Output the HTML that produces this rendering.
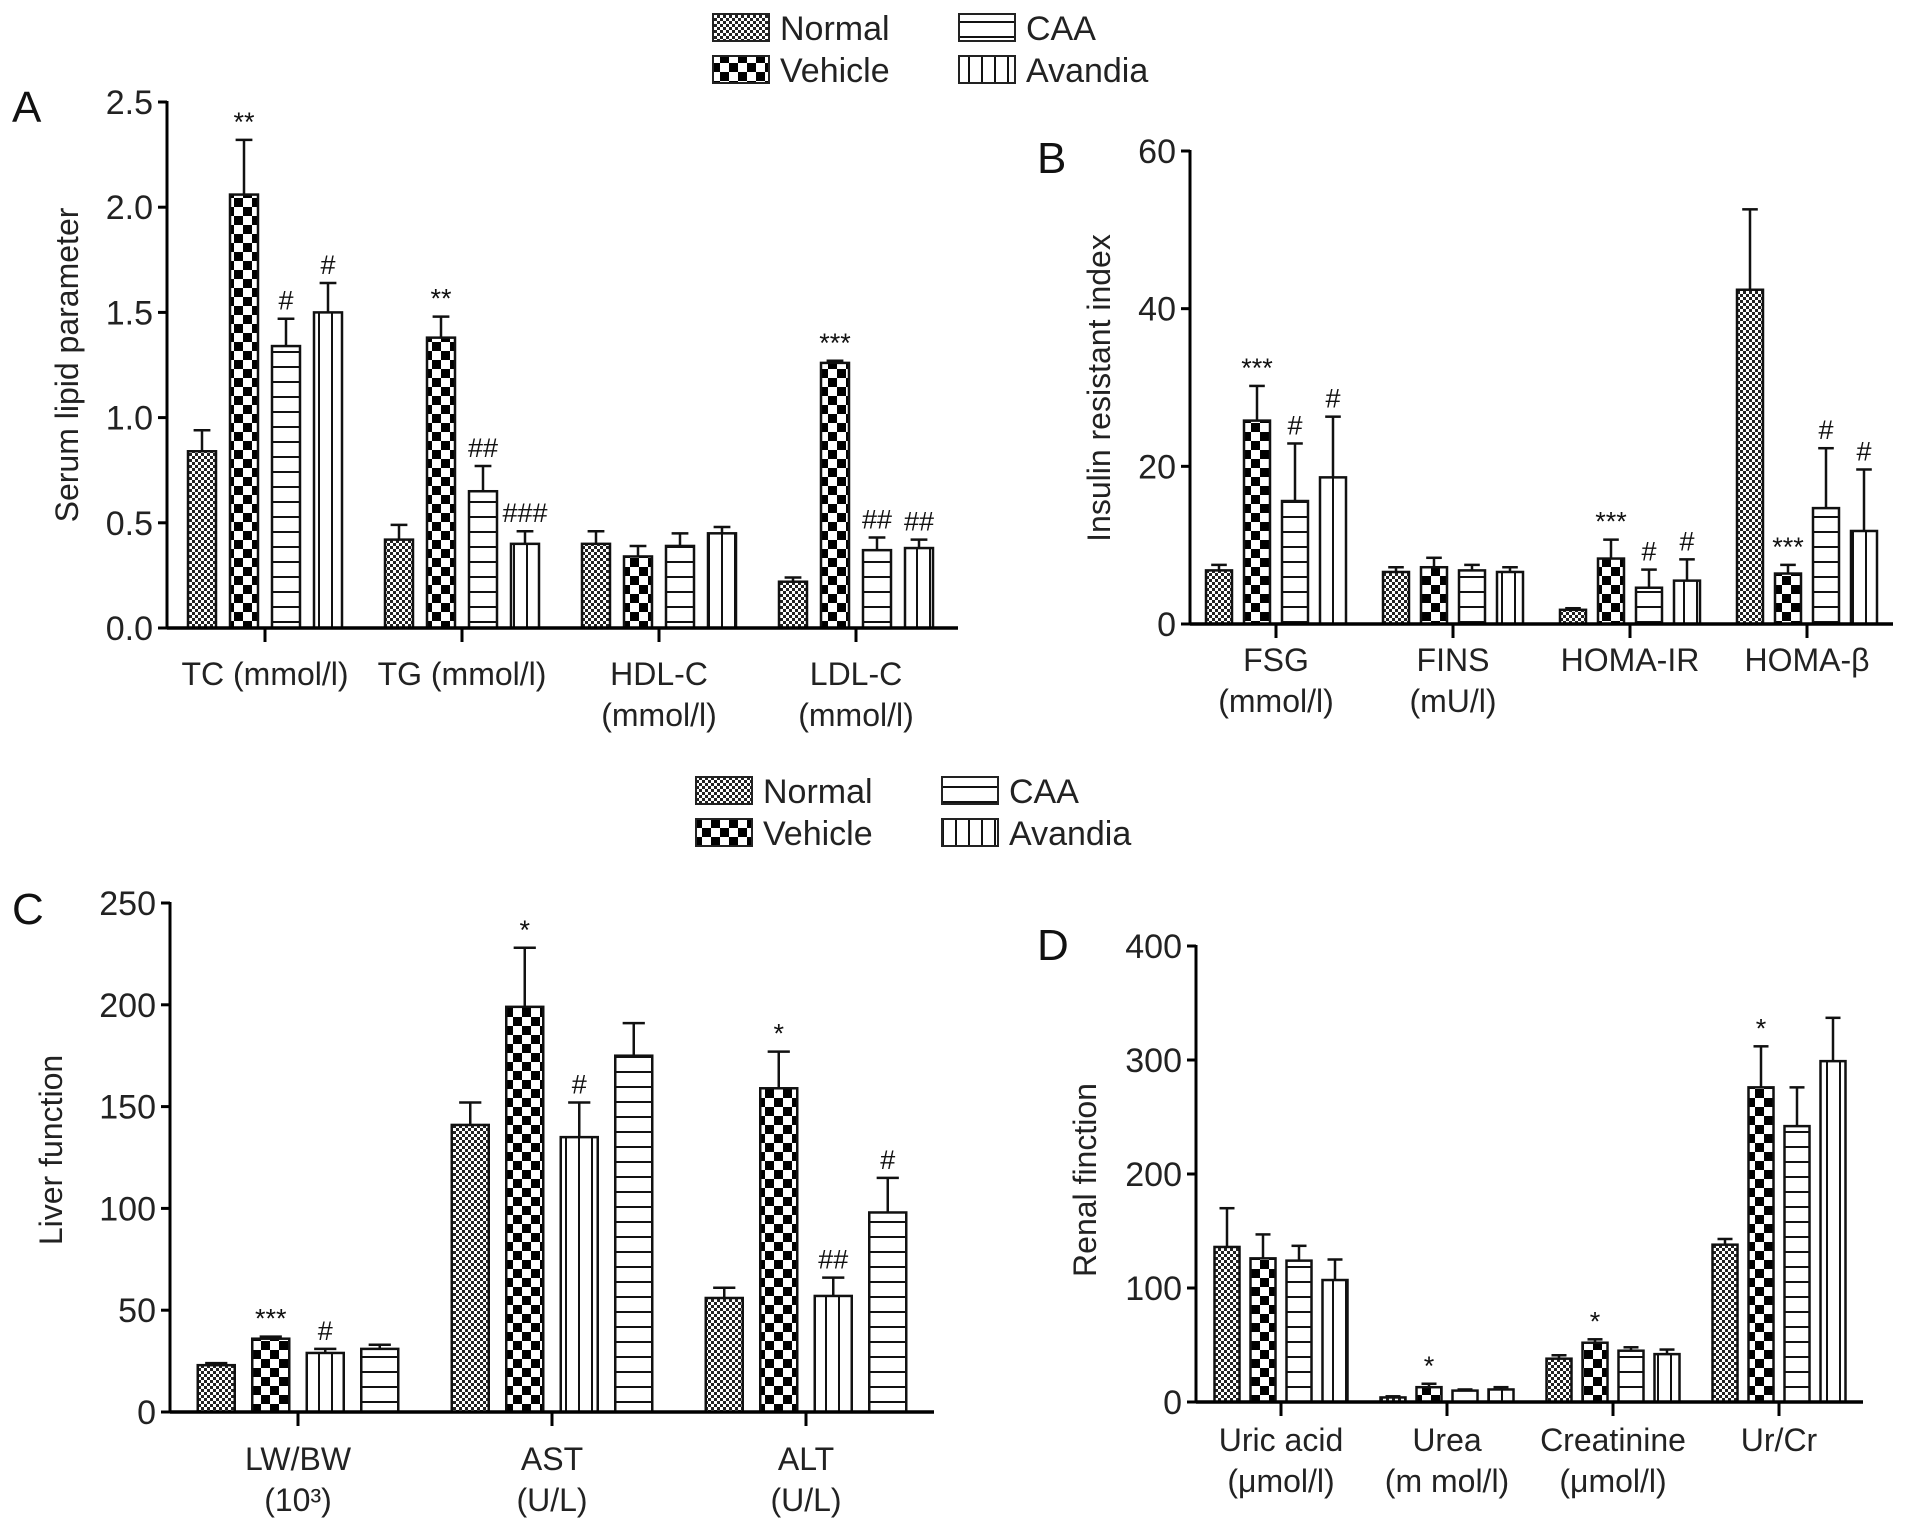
<!DOCTYPE html>
<html><head><meta charset="utf-8">
<style>
html,body{margin:0;padding:0;background:#fff;}
svg{display:block;font-family:"Liberation Sans",Arial,sans-serif;}
</style></head>
<body>
<svg id="fig" width="1913" height="1528" viewBox="0 0 1913 1528" xmlns="http://www.w3.org/2000/svg">
<defs>
  <pattern id="pFine" patternUnits="userSpaceOnUse" width="6" height="6">
    <rect width="6" height="6" fill="#fff"/><rect width="3" height="3" fill="#222"/><rect x="3" y="3" width="3" height="3" fill="#222"/>
  </pattern>
  <pattern id="pCheck" patternUnits="userSpaceOnUse" width="18" height="18">
    <rect width="18" height="18" fill="#fff"/><rect width="9" height="9" fill="#000"/><rect x="9" y="9" width="9" height="9" fill="#000"/>
  </pattern>
  <pattern id="pH" patternUnits="userSpaceOnUse" width="10" height="15">
    <rect width="10" height="15" fill="#fff"/><rect y="6" width="10" height="2" fill="#111"/>
  </pattern>
  <pattern id="pV" patternUnits="userSpaceOnUse" width="13" height="10">
    <rect width="13" height="10" fill="#fff"/><rect x="6" width="2" height="10" fill="#111"/>
  </pattern>
</defs>
<g id="root"></g>
</svg>
<script>
// ---- Panel A data ----
const catsA = [["TC (mmol/l)"],["TG (mmol/l)"],["HDL-C","(mmol/l)"],["LDL-C","(mmol/l)"]];
const normalA = [0.84,0.42,0.40,0.22];
const vehicleA = [2.06,1.38,0.34,1.26];
const caaA = [1.34,0.65,0.39,0.37];
const avandiaA = [1.50,0.40,0.45,0.38];
const errNormalA = [0.94,0.49,0.46,0.24];
const errVehicleA = [2.32,1.48,0.39,1.27];
const errCaaA = [1.47,0.77,0.45,0.43];
const errAvandiaA = [1.64,0.46,0.48,0.42];
const sigA = [["","**","#","#"],["","**","##","###"],["","","",""],["","***","##","##"]];
const ticksA = ["0.0","0.5","1.0","1.5","2.0","2.5"];
// ---- Panel B data ----
const catsB = [["FSG","(mmol/l)"],["FINS","(mU/l)"],["HOMA-IR"],["HOMA-β"]];
const normalB = [6.8,6.6,1.8,42.4];
const vehicleB = [25.8,7.2,8.3,6.4];
const caaB = [15.6,6.8,4.6,14.7];
const avandiaB = [18.6,6.6,5.5,11.8];
const errNormalB = [7.5,7.2,2.0,52.6];
const errVehicleB = [30.2,8.4,10.7,7.5];
const errCaaB = [22.9,7.5,6.9,22.3];
const errAvandiaB = [26.3,7.2,8.2,19.6];
const sigB = [["","***","#","#"],["","","",""],["","***","#","#"],["","***","#","#"]];
const ticksB = ["0","20","40","60"];
// ---- Panel C data ----
const catsC = [["LW/BW","(10³)"],["AST","(U/L)"],["ALT","(U/L)"]];
const normalC = [23,141,56];
const vehicleC = [36,199,159];
const avandiaC = [29,135,57];
const caaC = [31,175,98];
const errNormalC = [24,152,61];
const errVehicleC = [37,228,177];
const errAvandiaC = [31,152,66];
const errCaaC = [33,191,115];
const sigC = [["","***","#",""],["","*","#",""],["","*","##","#"]];
const ticksC = ["0","50","100","150","200","250"];
// ---- Panel D data ----
const catsD = [["Uric acid","(μmol/l)"],["Urea","(m mol/l)"],["Creatinine","(μmol/l)"],["Ur/Cr"]];
const normalD = [136,4,38,138];
const vehicleD = [126,13,52,276];
const caaD = [124,10,45,242];
const avandiaD = [107,11,42,299];
const errNormalD = [170,5,41,143];
const errVehicleD = [147,16,55,312];
const errCaaD = [137,11,48,276];
const errAvandiaD = [125,13,46,337];
const sigD = [["","","",""],["","*","",""],["","*","",""],["","*","",""]];
const ticksD = ["0","100","200","300","400"];

const NS = "http://www.w3.org/2000/svg";
const root = document.getElementById('root');
function mk(tag, attrs, parent){
  const e = document.createElementNS(NS, tag);
  for (const k in attrs) e.setAttribute(k, attrs[k]);
  (parent||root).appendChild(e);
  return e;
}

function panel(cfg){
  const g = mk('g', {});
  
  
  const ymax = parseFloat(cfg.ticks[cfg.ticks.length-1]);
  const yS = v => cfg.yBot - (v/ymax)*(cfg.yBot-cfg.yTop);
  const gx = i => cfg.first + i*cfg.spacing;
  cfg.series.forEach((s, si) => {
    s.vals.forEach((v, i) => {
      const cx = gx(i) + (si-1.5)*cfg.step;
      const x = cx - cfg.bw/2;
      const y = yS(v);
      const e = s.errs[i];
      const eb = mk('line', {x1:cx, x2:cx, y1:y, y2:yS(e), stroke:'#111','stroke-width':2.5}, g);
      
      
      const cap = mk('line', {x1:cx-cfg.bw*0.3, x2:cx+cfg.bw*0.3, y1:yS(e), y2:yS(e), stroke:'#111','stroke-width':2.5}, g);
      
      
      const r = mk('rect', {x:x, y:y, width:cfg.bw, height:cfg.yBot-y, fill:'url(#'+s.pat+')', stroke:'#111','stroke-width':2.5}, g);
      
      
      const t = cfg.sig[i][si];
      if (t) {
        const tt = mk('text', {x:cx, y:yS(e)-9, 'text-anchor':'middle','font-size':27, fill:'#111'}, g);
        tt.textContent = t;
        
        
      }
    });
  });
  const ya = mk('line', {x1:cfg.axisX, x2:cfg.axisX, y1:cfg.yTop-1, y2:cfg.yBot+1.5, stroke:'#000','stroke-width':3}, g);
  
  
  const xa = mk('line', {x1:cfg.axisX, x2:cfg.axisEnd, y1:cfg.yBot, y2:cfg.yBot, stroke:'#000','stroke-width':3.5}, g);
  
  
  cfg.ticks.forEach(tl => {
    const y = yS(parseFloat(tl));
    mk('line', {x1:cfg.axisX-9, x2:cfg.axisX, y1:y, y2:y, stroke:'#000','stroke-width':3}, g);
    const t = mk('text', {x:cfg.axisX-14, y:y+12, 'text-anchor':'end','font-size':34, fill:'#222'}, g);
    t.textContent = tl;
    
    
  });
  cfg.cats.forEach((c, i) => {
    const x = gx(i);
    mk('line', {x1:x, x2:x, y1:cfg.yBot, y2:cfg.yBot+14, stroke:'#000','stroke-width':3}, g);
    c.forEach((line, li) => {
      const t = mk('text', {x:x, y:cfg.yBot+cfg.labDy+li*41, 'text-anchor':'middle','font-size':32, fill:'#222'}, g);
      t.textContent = line;
      
      
    });
  });
  const at = mk('text', {x:0, y:0, transform:'translate('+cfg.titleX+','+cfg.titleY+') rotate(-90)', 'text-anchor':'middle','font-size':32, fill:'#222'}, g);
  at.textContent = cfg.title;
  
  
  const pl = mk('text', {x:cfg.letterX, y:cfg.letterY, 'font-size':44, fill:'#111'}, g);
  pl.textContent = cfg.letter;
  
  
}

function legend(x, y, name){
  const g = mk('g', {});
  
  
  const items = [["Normal","pFine",0,0],["Vehicle","pCheck",0,1],["CAA","pH",1,0],["Avandia","pV",1,1]];
  items.forEach(it => {
    const ix = x + it[2]*246, iy = y + it[3]*42;
    const sw = mk('rect', {x:ix, y:iy, width:56, height:27, fill:'url(#'+it[1]+')', stroke:'#222','stroke-width':2}, g);
    
    
    const t = mk('text', {x:ix+67, y:iy+26, 'font-size':34, fill:'#222'}, g);
    t.textContent = it[0];
    
    
  });
}

legend(713, 14, 'legend-top');
legend(696, 777, 'legend-bottom');

panel({name:'panel-a-lipid', letter:'A', letterX:12, letterY:122, title:'Serum lipid parameter', titleX:78, titleY:365,
  axisX:167, axisEnd:958, yTop:102, yBot:628, ticks:ticksA, cats:catsA, first:265, spacing:197, bw:28, step:42, labDy:57, sig:sigA,
  series:[{key:'normal',pat:'pFine',vals:normalA,errs:errNormalA},{key:'vehicle',pat:'pCheck',vals:vehicleA,errs:errVehicleA},
          {key:'caa',pat:'pH',vals:caaA,errs:errCaaA},{key:'avandia',pat:'pV',vals:avandiaA,errs:errAvandiaA}]});
panel({name:'panel-b-insulin', letter:'B', letterX:1037, letterY:173, title:'Insulin resistant index', titleX:1110, titleY:388,
  axisX:1190, axisEnd:1893, yTop:151, yBot:624, ticks:ticksB, cats:catsB, first:1276, spacing:177, bw:26, step:38, labDy:47, sig:sigB,
  series:[{key:'normal',pat:'pFine',vals:normalB,errs:errNormalB},{key:'vehicle',pat:'pCheck',vals:vehicleB,errs:errVehicleB},
          {key:'caa',pat:'pH',vals:caaB,errs:errCaaB},{key:'avandia',pat:'pV',vals:avandiaB,errs:errAvandiaB}]});
panel({name:'panel-c-liver', letter:'C', letterX:12, letterY:924, title:'Liver function', titleX:62, titleY:1150,
  axisX:170, axisEnd:934, yTop:903, yBot:1412, ticks:ticksC, cats:catsC, first:298, spacing:254, bw:37, step:54.5, labDy:58, sig:sigC,
  series:[{key:'normal',pat:'pFine',vals:normalC,errs:errNormalC},{key:'vehicle',pat:'pCheck',vals:vehicleC,errs:errVehicleC},
          {key:'avandia',pat:'pV',vals:avandiaC,errs:errAvandiaC},{key:'caa',pat:'pH',vals:caaC,errs:errCaaC}]});
panel({name:'panel-d-renal', letter:'D', letterX:1037, letterY:960, title:'Renal finction', titleX:1096, titleY:1180,
  axisX:1196, axisEnd:1863, yTop:946, yBot:1402, ticks:ticksD, cats:catsD, first:1281, spacing:166, bw:25, step:36, labDy:49, sig:sigD,
  series:[{key:'normal',pat:'pFine',vals:normalD,errs:errNormalD},{key:'vehicle',pat:'pCheck',vals:vehicleD,errs:errVehicleD},
          {key:'caa',pat:'pH',vals:caaD,errs:errCaaD},{key:'avandia',pat:'pV',vals:avandiaD,errs:errAvandiaD}]});
</script>
</body></html>
